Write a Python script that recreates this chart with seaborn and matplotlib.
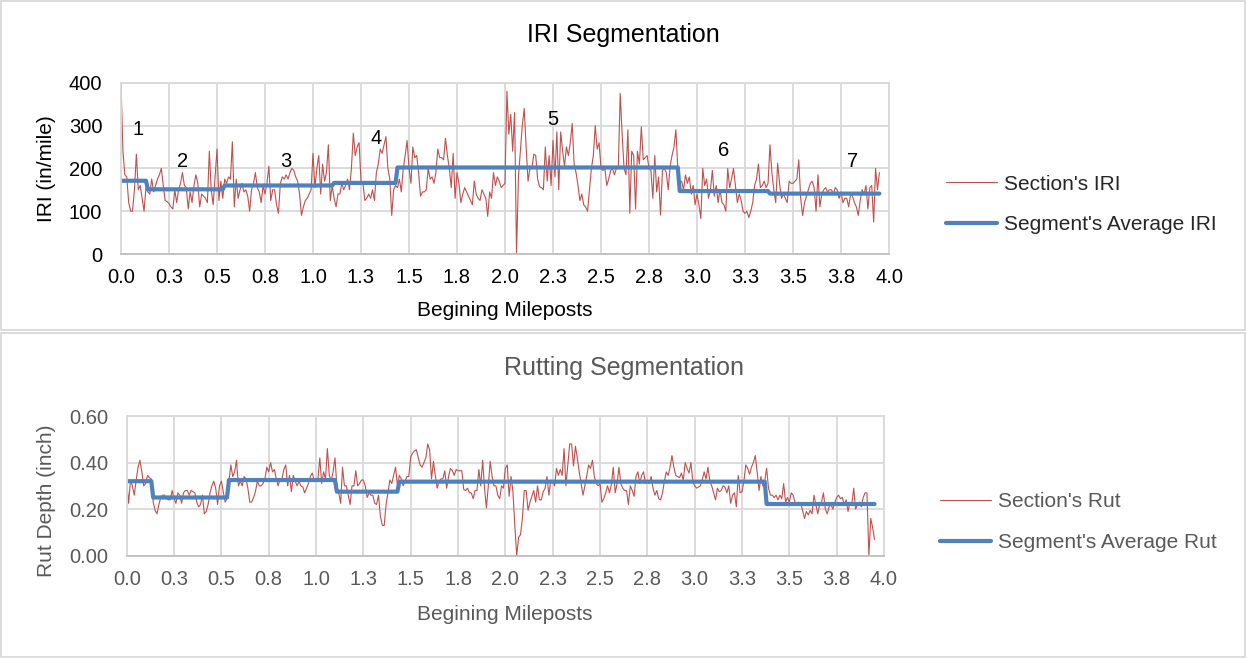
import numpy as np
import pandas as pd
import matplotlib
matplotlib.use("Agg")
import matplotlib.pyplot as plt
from matplotlib.patches import Rectangle
import seaborn as sns

sns.set_style("whitegrid")
plt.rcParams['font.family'] = ['Liberation Sans', 'DejaVu Sans']

# mileposts every 0.01 mile, 0.00 .. 3.95
mileposts = np.round(np.arange(396) * 0.01, 2)

# section IRI (in/mile), one row per 0.1 mile
iri = [
    400, 240, 185, 180, 120, 100, 100, 150, 233, 150,
    160, 130, 100, 155, 145, 140, 175, 145, 160, 175,
    185, 200, 160, 125, 122, 118, 110, 105, 150, 120,
    150, 165, 190, 160, 155, 105, 145, 120, 160, 185,
    165, 110, 140, 135, 130, 120, 240, 150, 115, 180,
    245, 125, 170, 130, 175, 165, 180, 175, 262, 110,
    175, 130, 150, 165, 145, 150, 135, 100, 150, 165,
    190, 155, 145, 120, 160, 140, 165, 205, 125, 150,
    150, 115, 95, 165, 180, 175, 185, 175, 190, 200,
    195, 180, 170, 140, 90, 110, 125, 130, 140, 150,
    235, 155, 200, 230, 140, 210, 170, 190, 255, 125,
    160, 130, 110, 140, 140, 165, 150, 160, 175, 150,
    200, 282, 230, 250, 260, 170, 165, 125, 130, 140,
    130, 150, 125, 190, 210, 245, 235, 255, 274, 200,
    175, 90, 150, 160, 155, 175, 145, 200, 230, 265,
    200, 165, 250, 225, 230, 190, 135, 145, 145, 150,
    200, 175, 180, 165, 190, 245, 225, 225, 220, 270,
    230, 200, 155, 235, 130, 190, 165, 120, 140, 155,
    145, 135, 125, 115, 170, 140, 130, 125, 150, 140,
    130, 88, 145, 130, 190, 160, 180, 170, 155, 160,
    165, 380, 280, 326, 240, 330, 0, 180, 240, 300,
    340, 250, 170, 200, 200, 233, 230, 175, 157, 155,
    150, 250, 170, 230, 160, 265, 180, 285, 150, 285,
    240, 205, 250, 230, 260, 305, 210, 190, 160, 125,
    140, 115, 110, 100, 150, 200, 230, 300, 245, 260,
    200, 195, 200, 160, 175, 195, 200, 185, 200, 200,
    375, 280, 200, 185, 290, 95, 240, 230, 105, 240,
    210, 297, 220, 225, 230, 200, 195, 130, 230, 145,
    180, 91, 195, 200, 190, 150, 205, 230, 250, 290,
    200, 165, 170, 150, 185, 165, 180, 140, 160, 115,
    140, 115, 83, 200, 160, 175, 130, 150, 195, 135,
    160, 120, 150, 120, 115, 100, 200, 155, 175, 200,
    160, 120, 140, 125, 100, 95, 100, 85, 100, 120,
    160, 175, 210, 155, 160, 170, 155, 165, 255, 190,
    150, 120, 212, 165, 130, 140, 130, 120, 170, 165,
    165, 170, 175, 220, 130, 90, 120, 135, 150, 165,
    170, 155, 100, 185, 110, 140, 150, 155, 145, 150,
    150, 140, 155, 150, 130, 145, 120, 130, 130, 110,
    140, 135, 120, 110, 90, 125, 150, 140, 160, 105,
    155, 160, 75, 200, 150, 190,
]

# section rut depth (inch)
rut = [
    0.32, 0.225, 0.325, 0.30, 0.26, 0.325, 0.38, 0.41, 0.36, 0.30,
    0.31, 0.345, 0.335, 0.33, 0.23, 0.195, 0.18, 0.22, 0.25, 0.26,
    0.26, 0.245, 0.24, 0.24, 0.28, 0.245, 0.225, 0.27, 0.26, 0.225,
    0.27, 0.28, 0.28, 0.26, 0.28, 0.275, 0.27, 0.23, 0.21, 0.22,
    0.26, 0.18, 0.19, 0.22, 0.27, 0.30, 0.32, 0.29, 0.22, 0.30,
    0.32, 0.275, 0.23, 0.245, 0.32, 0.39, 0.34, 0.36, 0.41, 0.30,
    0.32, 0.30, 0.34, 0.33, 0.29, 0.23, 0.23, 0.25, 0.275, 0.32,
    0.30, 0.30, 0.31, 0.33, 0.38, 0.36, 0.40, 0.36, 0.37, 0.33,
    0.30, 0.33, 0.33, 0.37, 0.39, 0.30, 0.345, 0.275, 0.345, 0.32,
    0.30, 0.32, 0.30, 0.295, 0.27, 0.29, 0.31, 0.34, 0.355, 0.325,
    0.33, 0.33, 0.42, 0.31, 0.36, 0.33, 0.46, 0.345, 0.32, 0.36,
    0.42, 0.30, 0.27, 0.225, 0.38, 0.30, 0.30, 0.26, 0.22, 0.30,
    0.30, 0.365, 0.30, 0.31, 0.325, 0.325, 0.30, 0.25, 0.27, 0.26,
    0.26, 0.225, 0.22, 0.26, 0.17, 0.13, 0.13, 0.22, 0.27, 0.325,
    0.31, 0.345, 0.38, 0.30, 0.345, 0.33, 0.30, 0.32, 0.34, 0.34,
    0.425, 0.44, 0.45, 0.455, 0.42, 0.39, 0.38, 0.40, 0.42, 0.48,
    0.455, 0.33, 0.405, 0.345, 0.29, 0.32, 0.33, 0.33, 0.365, 0.29,
    0.34, 0.375, 0.365, 0.345, 0.37, 0.365, 0.365, 0.365, 0.285, 0.28,
    0.29, 0.27, 0.27, 0.245, 0.28, 0.28, 0.37, 0.30, 0.41, 0.29,
    0.205, 0.30, 0.405, 0.34, 0.30, 0.30, 0.26, 0.245, 0.30, 0.29,
    0.375, 0.39, 0.255, 0.34, 0.275, 0.13, 0.00, 0.08, 0.09, 0.16,
    0.28, 0.28, 0.195, 0.23, 0.255, 0.28, 0.23, 0.30, 0.24, 0.24,
    0.275, 0.29, 0.34, 0.26, 0.325, 0.32, 0.30, 0.375, 0.345, 0.37,
    0.345, 0.46, 0.30, 0.39, 0.48, 0.48, 0.385, 0.47, 0.42, 0.36,
    0.31, 0.26, 0.30, 0.345, 0.39, 0.375, 0.41, 0.34, 0.31, 0.30,
    0.31, 0.23, 0.245, 0.27, 0.30, 0.27, 0.305, 0.38, 0.27, 0.31,
    0.38, 0.31, 0.29, 0.28, 0.28, 0.22, 0.30, 0.28, 0.255, 0.34,
    0.36, 0.31, 0.345, 0.36, 0.31, 0.32, 0.31, 0.34, 0.29, 0.26,
    0.28, 0.245, 0.24, 0.27, 0.32, 0.36, 0.345, 0.38, 0.43, 0.38,
    0.345, 0.34, 0.335, 0.355, 0.325, 0.40, 0.375, 0.355, 0.40, 0.32,
    0.30, 0.29, 0.295, 0.30, 0.325, 0.36, 0.33, 0.38, 0.32, 0.30,
    0.27, 0.24, 0.29, 0.275, 0.28, 0.30, 0.295, 0.27, 0.30, 0.225,
    0.26, 0.27, 0.21, 0.345, 0.27, 0.275, 0.32, 0.39, 0.375, 0.35,
    0.38, 0.40, 0.43, 0.36, 0.28, 0.34, 0.30, 0.32, 0.375, 0.29,
    0.26, 0.26, 0.25, 0.26, 0.24, 0.26, 0.245, 0.31, 0.23, 0.25,
    0.23, 0.27, 0.26, 0.23, 0.225, 0.23, 0.225, 0.195, 0.16, 0.19,
    0.175, 0.195, 0.18, 0.26, 0.22, 0.18, 0.22, 0.23, 0.27, 0.20,
    0.18, 0.21, 0.22, 0.20, 0.23, 0.25, 0.26, 0.245, 0.25, 0.22,
    0.24, 0.19, 0.23, 0.22, 0.29, 0.20, 0.22, 0.23, 0.21, 0.25,
    0.27, 0.27, 0.00, 0.16, 0.12, 0.07,
]

# segment start mileposts and segment averages
iri_seg_start = [0.00, 0.14, 0.54, 1.11, 1.44, 2.91, 3.38]
iri_seg_avg = [171, 151, 160, 166, 202, 147, 141]
rut_seg_start = [0.00, 0.14, 0.54, 1.11, 1.44, 3.38]
rut_seg_avg = [0.32, 0.25, 0.325, 0.275, 0.318, 0.222]

seg_names = ['1', '2', '3', '4', '5', '6', '7']
seg_name_x = [0.09, 0.32, 0.86, 1.33, 2.25, 3.14, 3.81]
seg_name_y = [290, 215, 215, 269, 313, 241, 215]

x_ticks = [0, 0.25, 0.5, 0.75, 1.0, 1.25, 1.5, 1.75, 2.0, 2.25, 2.5, 2.75,
           3.0, 3.25, 3.5, 3.75, 4.0]
x_tick_labels = ['0.0', '0.3', '0.5', '0.8', '1.0', '1.3', '1.5', '1.8', '2.0',
                 '2.3', '2.5', '2.8', '3.0', '3.3', '3.5', '3.8', '4.0']

iri_idx = np.searchsorted(iri_seg_start, mileposts + 1e-6, side='right') - 1
rut_idx = np.searchsorted(rut_seg_start, mileposts + 1e-6, side='right') - 1
df = pd.DataFrame({
    'milepost': mileposts,
    'iri': iri,
    'iri_avg': np.array(iri_seg_avg)[iri_idx],
    'rut': rut,
    'rut_avg': np.array(rut_seg_avg)[rut_idx],
})

RED = '#c0504d'
BLUE = '#4f81bd'
GRID = '#d9d9d9'
GREY_TXT = '#595959'

W, H = 1247, 659
fig = plt.figure(figsize=(W / 100, H / 100), dpi=100)

def fx(px):
    return px / W

def fy(py):
    return 1 - py / H

ax1 = fig.add_axes([fx(121), fy(254), (889 - 121) / W, (254 - 82.7) / H])
ax2 = fig.add_axes([fx(126.7), fy(555.7), (884 - 126.7) / W, (555.7 - 416) / H])

sns.lineplot(data=df, x='milepost', y='iri', ax=ax1, color=RED, linewidth=0.8,
             estimator=None, label="Section's IRI")
sns.lineplot(data=df, x='milepost', y='iri_avg', ax=ax1, color=BLUE, linewidth=3,
             estimator=None, label="Segment's Average IRI", solid_joinstyle='round')
sns.lineplot(data=df, x='milepost', y='rut', ax=ax2, color=RED, linewidth=0.8,
             estimator=None, label="Section's Rut")
sns.lineplot(data=df, x='milepost', y='rut_avg', ax=ax2, color=BLUE, linewidth=3,
             estimator=None, label="Segment's Average Rut", solid_joinstyle='round')

for ax, txt in ((ax1, 'black'), (ax2, GREY_TXT)):
    ax.set_xlim(0, 4.0)
    ax.set_xticks(x_ticks)
    ax.set_xticklabels(x_tick_labels)
    ax.grid(True, color=GRID, linewidth=1.3)
    for s in ax.spines.values():
        s.set_color(GRID)
        s.set_linewidth(1.3)
    ax.spines['bottom'].set_color('#bfbfbf')
    ax.tick_params(axis='both', length=0, labelsize=14.5, colors=txt)
    ax.tick_params(axis='x', pad=10)
    ax.tick_params(axis='y', pad=13.5)
    ax.set_xlabel('')
    ax.set_ylabel('')

ax1.set_ylim(0, 400)
ax1.set_yticks([0, 100, 200, 300, 400])
ax2.set_ylim(0, 0.6)
ax2.set_yticks([0, 0.2, 0.4, 0.6])
ax2.set_yticklabels(['0.00', '0.20', '0.40', '0.60'])

for name, x, y in zip(seg_names, seg_name_x, seg_name_y):
    ax1.text(x, y, name, fontsize=14.5, ha='center', va='center', color='black')

# titles and axis labels
fig.text(0.5, fy(35), 'IRI Segmentation', fontsize=18, ha='center', va='center', color='black')
fig.text(0.5, fy(368), 'Rutting Segmentation', fontsize=18, ha='center', va='center', color=GREY_TXT)
fig.text(fx(505), fy(311), 'Begining Mileposts', fontsize=15, ha='center', va='center', color='black')
fig.text(fx(505), fy(615), 'Begining Mileposts', fontsize=15, ha='center', va='center', color=GREY_TXT)
fig.text(fx(47), fy(169), 'IRI (in/mile)', fontsize=15, rotation=90, ha='center', va='center', color='black')
fig.text(fx(47), fy(501), 'Rut Depth (inch)', fontsize=15, rotation=90, ha='center', va='center', color=GREY_TXT)

leg_kw = dict(loc='center left', bbox_transform=fig.transFigure, frameon=False, fontsize=15,
              handlelength=2.45, handletextpad=0.35, labelspacing=1.05, borderpad=0, borderaxespad=0)
leg1 = ax1.legend(bbox_to_anchor=(fx(946), fy(204.5)), **leg_kw)
leg2 = ax2.legend(bbox_to_anchor=(fx(940), fy(522)), **leg_kw)
for t in leg2.get_texts():
    t.set_color(GREY_TXT)

# chart frames
fig.add_artist(Rectangle((fx(1), fy(330)), (1245 - 1) / W, (330 - 1) / H, transform=fig.transFigure,
                         fill=False, edgecolor=GRID, linewidth=1.3))
fig.add_artist(Rectangle((fx(1), fy(657)), (1245 - 1) / W, (657 - 333) / H, transform=fig.transFigure,
                         fill=False, edgecolor=GRID, linewidth=1.3))

fig.savefig('out.png', dpi=100)
